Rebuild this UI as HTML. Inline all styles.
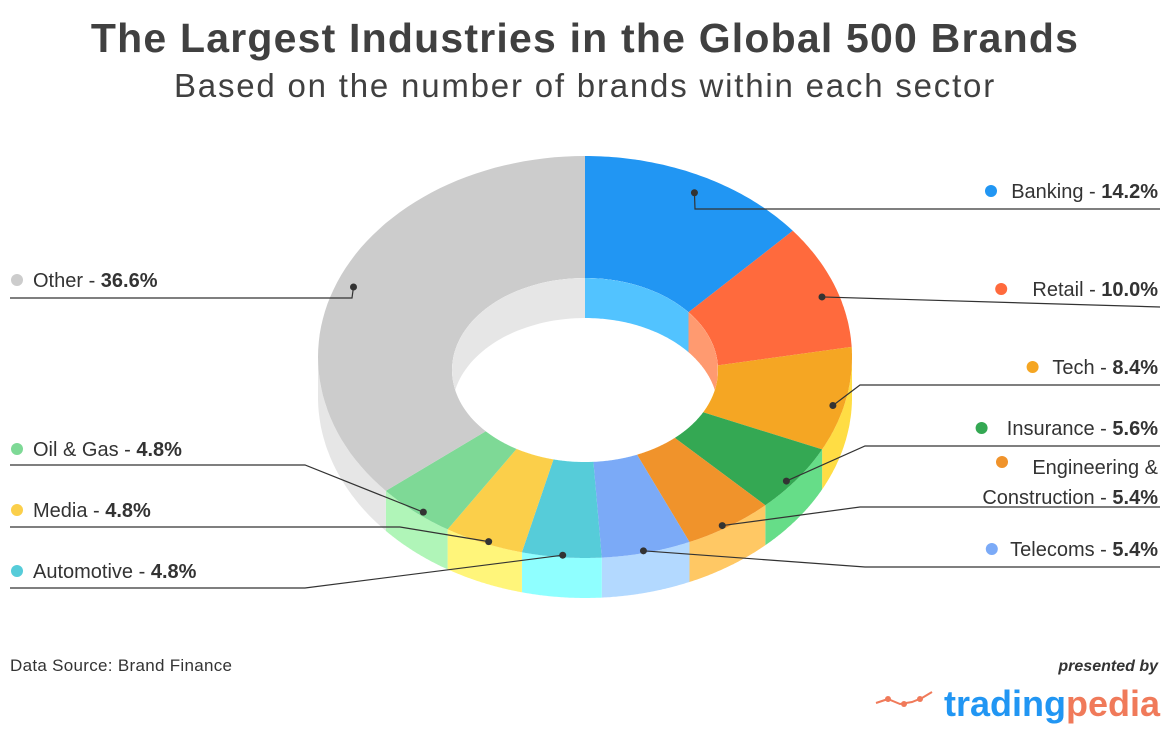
<!DOCTYPE html>
<html><head><meta charset="utf-8">
<style>
body{margin:0;width:1170px;height:735px;background:#fff;font-family:"Liberation Sans",sans-serif;overflow:hidden}
svg{position:absolute;left:0;top:0}
</style></head>
<body>
<svg id="chart" width="1170" height="735">
<text x="585" y="52" text-anchor="middle" font-size="41" font-weight="bold" fill="#404040" letter-spacing="1.2">The Largest Industries in the Global 500 Brands</text>
<text x="585" y="97" text-anchor="middle" font-size="33" fill="#404040" letter-spacing="1.8">Based on the number of brands within each sector</text>
<text x="10" y="671" font-size="17" fill="#333" letter-spacing="0.3">Data Source: Brand Finance</text>
<text x="1158" y="671" text-anchor="end" font-size="16" font-style="italic" font-weight="bold" fill="#333">presented by</text>
<g>
<polyline points="876,703 888,699 900,704 912,702 922,698 932,692" fill="none" stroke="#f07a5a" stroke-width="2"/>
<circle cx="888" cy="699" r="3" fill="#f07a5a"/><circle cx="904" cy="704" r="3" fill="#f07a5a"/><circle cx="920" cy="699" r="3" fill="#f07a5a"/>
<text x="1160" y="716" text-anchor="end" font-size="36" font-weight="bold" fill="#2196f3">trading<tspan fill="#f07a5a">pedia</tspan></text>
</g>
<defs><clipPath id="holeClip"><ellipse cx="585" cy="370" rx="133" ry="92"/></clipPath></defs>
<g id="sides"></g><g id="tops"></g><g id="inner" clip-path="url(#holeClip)"></g><g id="labels"></g>
</svg>
<script>
const categories=["Banking","Retail","Tech","Insurance","Engineering & Construction","Telecoms","Automotive","Media","Oil & Gas","Other"];
const values=[14.2,10.0,8.4,5.6,5.4,5.4,4.8,4.8,4.8,36.6];
const topColors=["#2196f3","#ff6a3d","#f5a623","#34a853","#f0932b","#7baaf7","#56ccd9","#fbcf4a","#7ed996","#cccccc"];
const sideColors=["#52c3ff","#ff9a70","#ffdd44","#66dd88","#ffc864","#b3d9ff","#8fffff","#fff57a","#b0f5b8","#e6e6e6"];
const cx=585,cy=357,RX=267,RY=201,ICY=370,IRX=133,IRY=92,D=40;
const NS="http://www.w3.org/2000/svg";
function op(t,dy){return [cx+RX*Math.sin(t),cy-RY*Math.cos(t)+(dy||0)];}
function ip(t,dy){return [cx+IRX*Math.sin(t),ICY-IRY*Math.cos(t)+(dy||0)];}
function pts(f,a,b,dy){const r=[];const n=60;for(let i=0;i<=n;i++){r.push(f(a+(b-a)*i/n,dy));}return r;}
function path(arr){return "M"+arr.map(p=>p[0].toFixed(1)+","+p[1].toFixed(1)).join("L")+"Z";}
function mk(par,d,fill,name){const e=document.createElementNS(NS,"path");e.setAttribute("d",d);e.setAttribute("fill",fill);


document.getElementById(par).appendChild(e);return e;}
const total=values.reduce((a,b)=>a+b,0);
let acc=0;const mids=[];
values.forEach((v,i)=>{
 const a=acc/total*2*Math.PI;acc+=v;const b=acc/total*2*Math.PI;mids.push((a+b)/2);
 const slug=categories[i].toLowerCase().replace(/[^a-z]+/g,'-');
 const s=Math.max(a,Math.PI/2),e=Math.min(b,3*Math.PI/2);
 if(e>s){mk("sides",path(pts(op,s,e,0).concat(pts(op,e,s,D))),sideColors[i],"side-"+slug);}
 mk("tops",path(pts(op,a,b,0).concat(pts(ip,b,a,0))),topColors[i],"slice-"+slug);
});
const hole=document.createElementNS(NS,"ellipse");
hole.setAttribute("cx",cx);hole.setAttribute("cy",ICY);hole.setAttribute("rx",IRX);hole.setAttribute("ry",IRY);hole.setAttribute("fill","#fff");


document.getElementById("inner").appendChild(hole);
acc=0;
values.forEach((v,i)=>{
 const a=acc/total*2*Math.PI;acc+=v;const b=acc/total*2*Math.PI;
 const slug=categories[i].toLowerCase().replace(/[^a-z]+/g,'-');
 mk("inner",path(pts(ip,a,b,0).concat(pts(ip,b,a,D))),sideColors[i],"inner-wall-"+slug);
});
const labelPos=[[1158,191,"r",[[1160,209],[695,209]]],[1158,289,"r",[[1160,307]]],[1158,367,"r",[[1160,385],[860,385]]],[1158,428,"r",[[1160,446],[865,446]]],[1158,467,"r2",[[1160,507],[860,507]]],[1158,549,"r",[[1160,567],[865,567]]],[33,571,"l",[[10,588],[305,588]]],[33,510,"l",[[10,527],[400,527]]],[33,449,"l",[[10,465],[305,465]]],[33,280,"l",[[10,298],[352,298]]]];
const L=document.getElementById("labels");
values.forEach((v,i)=>{
 const t=mids[i];const f=0.95;
 const d=[cx+RX*f*Math.sin(t),cy-RY*f*Math.cos(t)+8];
 const lp=labelPos[i];
 const line=document.createElementNS(NS,"polyline");
 const ptsArr=lp[3].concat([d]);
 line.setAttribute("points",ptsArr.map(p=>p.join(",")).join(" "));
 line.setAttribute("fill","none");line.setAttribute("stroke","#333");line.setAttribute("stroke-width","1.2");
 
 
 L.appendChild(line);
 const dot=document.createElementNS(NS,"circle");dot.setAttribute("cx",d[0]);dot.setAttribute("cy",d[1]);dot.setAttribute("r",3.5);dot.setAttribute("fill","#333");
 
 
 L.appendChild(dot);
 const g=document.createElementNS(NS,"text");g.setAttribute("font-size","20");g.setAttribute("fill","#333");
 
 
 const pct=v.toFixed(1)+"%";
 if(lp[2]=="l"){
  g.setAttribute("x",lp[0]);g.setAttribute("y",lp[1]+7);
  g.innerHTML=categories[i].replace("&","&amp;")+" - <tspan font-weight='bold'>"+pct+"</tspan>";
  const c=document.createElementNS(NS,"circle");c.setAttribute("cx",lp[0]-16);c.setAttribute("cy",lp[1]);c.setAttribute("r",6);c.setAttribute("fill",topColors[i]);
  
  
  L.appendChild(c);
 } else if(lp[2]=="r"){
  g.setAttribute("x",lp[0]);g.setAttribute("y",lp[1]+7);g.setAttribute("text-anchor","end");
  g.innerHTML=categories[i]+" - <tspan font-weight='bold'>"+pct+"</tspan>";
  const w=(categories[i].length+3)*10.2+pct.length*11;
  const c=document.createElementNS(NS,"circle");c.setAttribute("cx",lp[0]-w-10);c.setAttribute("cy",lp[1]);c.setAttribute("r",6);c.setAttribute("fill",topColors[i]);
  
  
  L.appendChild(c);
 } else {
  g.setAttribute("text-anchor","end");
  g.innerHTML="<tspan x='"+lp[0]+"' y='"+(lp[1]+7)+"'>Engineering &amp;</tspan><tspan x='"+lp[0]+"' y='"+(lp[1]+37)+"'>Construction - <tspan font-weight='bold'>"+pct+"</tspan></tspan>";
  const c=document.createElementNS(NS,"circle");c.setAttribute("cx",1002);c.setAttribute("cy",lp[1]-5);c.setAttribute("r",6);c.setAttribute("fill",topColors[i]);
  
  
  L.appendChild(c);
 }
 L.appendChild(g);
});
</script>
</body></html>
